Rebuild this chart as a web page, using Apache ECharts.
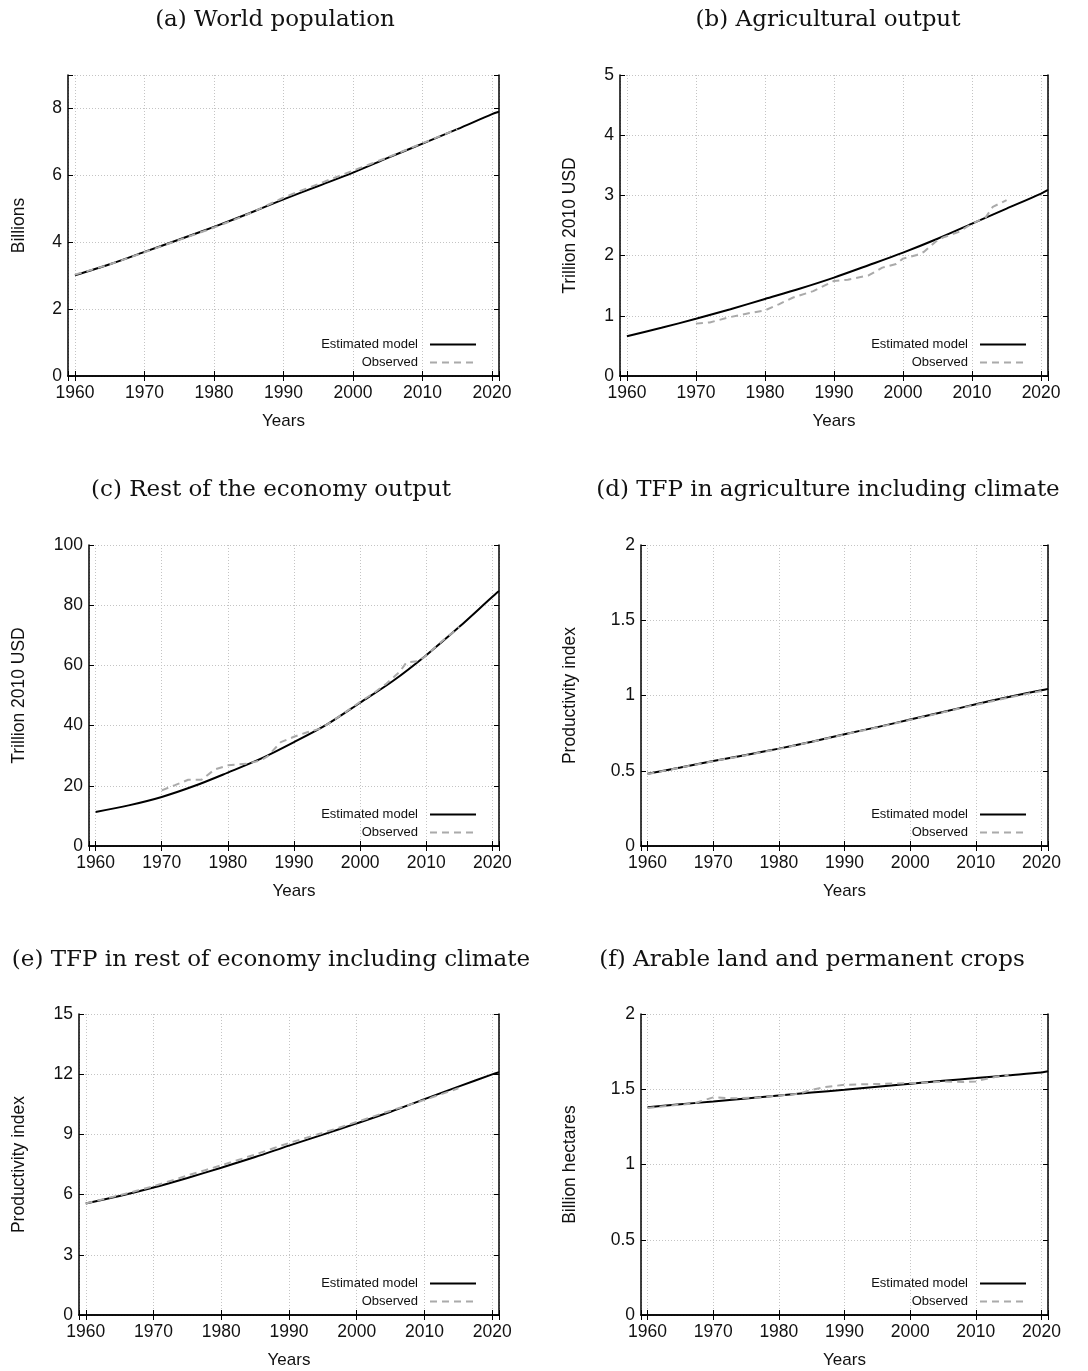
<!DOCTYPE html>
<html>
<head>
<meta charset="utf-8">
<script src="https://cdn.jsdelivr.net/npm/echarts@6/dist/echarts.min.js"></script>
<style>
  html, body { margin: 0; padding: 0; background: #fff; }
  #chart { width: 1088px; height: 1371px; }
</style>
</head>
<body>
<div id="chart"></div>
<script>
// model years (every 5 years + 2021)
var modelYears = [1960, 1965, 1970, 1975, 1980, 1985, 1990, 1995, 2000, 2005, 2010, 2015, 2020, 2021];

// (a) world population, billions
var popModel = [3.01, 3.34, 3.71, 4.08, 4.46, 4.86, 5.28, 5.68, 6.08, 6.52, 6.95, 7.38, 7.83, 7.90];
var popObsYears = [1960, 1965, 1970, 1975, 1980, 1985, 1990, 1995, 2000, 2005, 2010, 2015];
var popObs = [3.03, 3.34, 3.70, 4.07, 4.44, 4.85, 5.33, 5.74, 6.14, 6.54, 6.96, 7.38];

// (b) agricultural output, trillion 2010 USD
var agModel = [0.66, 0.80, 0.95, 1.11, 1.28, 1.45, 1.635, 1.84, 2.05, 2.28, 2.53, 2.78, 3.03, 3.09];
var agObsYears = [1970, 1972, 1975, 1978, 1980, 1982, 1984, 1987, 1990, 1992, 1995, 1997, 1999, 2000, 2002, 2003, 2005, 2006, 2008, 2010, 2012, 2013, 2015];
var agObs = [0.87, 0.89, 0.98, 1.05, 1.09, 1.19, 1.30, 1.41, 1.58, 1.60, 1.67, 1.80, 1.86, 1.95, 2.01, 2.06, 2.26, 2.31, 2.39, 2.53, 2.64, 2.81, 2.92];

// (c) rest of the economy output, trillion 2010 USD
var restModel = [11.3, 13.5, 16.3, 20.0, 24.4, 29.0, 34.5, 40.4, 47.6, 54.9, 63.4, 72.8, 82.8, 84.7];
var restObsYears = [1970, 1972, 1974, 1976, 1978, 1980, 1983, 1985, 1986, 1988, 1990, 1992, 1994, 1996, 1998, 2000, 2002, 2004, 2006, 2007, 2009, 2010, 2012, 2015];
var restObs = [18.5, 20.2, 22.0, 22.0, 25.4, 26.8, 27.4, 28.5, 29.8, 34.5, 36.3, 37.8, 39.0, 41.8, 44.8, 47.9, 50.7, 54.0, 57.9, 61.0, 61.5, 63.4, 67.3, 72.8];

// (d) TFP in agriculture
var tfpAgModel = [0.48, 0.522, 0.565, 0.605, 0.647, 0.693, 0.743, 0.79, 0.84, 0.89, 0.942, 0.99, 1.035, 1.044];
var tfpAgObsYears = [1960, 1965, 1970, 1975, 1980, 1985, 1990, 1995, 2000, 2005, 2010, 2015, 2020];
var tfpAgObs = [0.478, 0.521, 0.563, 0.603, 0.645, 0.692, 0.741, 0.788, 0.838, 0.888, 0.938, 0.986, 1.03];

// (e) TFP in rest of economy
var tfpRestModel = [5.56, 5.93, 6.35, 6.83, 7.34, 7.87, 8.44, 8.99, 9.55, 10.13, 10.76, 11.38, 11.99, 12.1];
var tfpRestObsYears = [1960, 1965, 1970, 1975, 1980, 1985, 1990, 1995, 2000, 2005, 2010, 2015];
var tfpRestObs = [5.56, 5.97, 6.42, 6.95, 7.46, 8.0, 8.57, 9.08, 9.62, 10.18, 10.72, 11.3];

// (f) arable land, billion hectares
var landModel = [1.381, 1.40, 1.419, 1.439, 1.459, 1.478, 1.497, 1.517, 1.537, 1.556, 1.574, 1.593, 1.612, 1.619];
var landObsYears = [1960, 1963, 1967, 1970, 1973, 1977, 1980, 1983, 1985, 1987, 1990, 1995, 2000, 2003, 2005, 2008, 2010, 2012, 2015];
var landObs = [1.375, 1.39, 1.405, 1.446, 1.44, 1.445, 1.459, 1.47, 1.495, 1.514, 1.53, 1.535, 1.541, 1.545, 1.552, 1.548, 1.552, 1.574, 1.597];

var titles = ['(a) World population', '(b) Agricultural output', '(c) Rest of the economy output',
  '(d) TFP in agriculture including climate', '(e) TFP in rest of economy including climate',
  '(f) Arable land and permanent crops'];
var yNames = ['Billions', 'Trillion 2010 USD', 'Trillion 2010 USD', 'Productivity index', 'Productivity index', 'Billion hectares'];
var yMax = [9, 5, 100, 2, 15, 2];
var yStep = [2, 1, 20, 0.5, 3, 0.5];

var panels = [
  { model: popModel, obsYears: popObsYears, obs: popObs, smoothObs: true },
  { model: agModel, obsYears: agObsYears, obs: agObs, smoothObs: false },
  { model: restModel, obsYears: restObsYears, obs: restObs, smoothObs: false },
  { model: tfpAgModel, obsYears: tfpAgObsYears, obs: tfpAgObs, smoothObs: true },
  { model: tfpRestModel, obsYears: tfpRestObsYears, obs: tfpRestObs, smoothObs: true },
  { model: landModel, obsYears: landObsYears, obs: landObs, smoothObs: false }
];

// layout of the six plot boxes
var boxes = [
  { left: 68, top: 75, width: 431, height: 301, name: 40, title: [275, 20], legendRight: 611, legendTop: 338 },
  { left: 620, top: 75, width: 428, height: 301, name: 41, title: [828, 20], legendRight: 61, legendTop: 338 },
  { left: 89, top: 545, width: 410, height: 301, name: 61, title: [271, 490], legendRight: 611, legendTop: 808 },
  { left: 641, top: 545, width: 407, height: 301, name: 62, title: [828, 490], legendRight: 61, legendTop: 808 },
  { left: 79, top: 1014, width: 420, height: 301, name: 51, title: [271, 960], legendRight: 611, legendTop: 1277 },
  { left: 641, top: 1014, width: 407, height: 301, name: 62, title: [812, 960], legendRight: 61, legendTop: 1277 }
];

var sans = 'Liberation Sans';
var grids = [], xAxes = [], yAxes = [], series = [], legends = [], graphics = [];

panels.forEach(function (p, i) {
  var b = boxes[i];
  grids.push({ left: b.left, top: b.top, width: b.width, height: b.height, containLabel: false });

  xAxes.push({
    type: 'value', gridIndex: i, min: 1959, max: 2021, splitNumber: 6, position: 'bottom',
    name: 'Years', nameLocation: 'middle', nameGap: 37,
    nameTextStyle: { fontFamily: sans, fontSize: 17, color: '#111' },
    axisLine: { show: true, lineStyle: { color: '#000', width: 1.5 } },
    axisTick: { inside: true, length: 5, lineStyle: { color: '#000' } },
    axisLabel: { fontFamily: sans, fontSize: 17.5, color: '#111', margin: 8,
      formatter: function (v) { return v % 10 === 0 ? String(v) : ''; } },
    splitLine: { show: true, lineStyle: { color: '#c4c4c4', type: [1, 2], width: 1 } }
  });
  xAxes.push({
    type: 'value', gridIndex: i, min: 1959, max: 2021, splitNumber: 6, position: 'top',
    axisLine: { show: true, lineStyle: { color: '#000', width: 1.5 } },
    axisTick: { inside: true, length: 5, lineStyle: { color: '#000' } },
    axisLabel: { show: false }, splitLine: { show: false }
  });

  var step = yStep[i];
  yAxes.push({
    type: 'value', gridIndex: i, min: 0, max: yMax[i], interval: step, position: 'left',
    name: yNames[i], nameLocation: 'middle', nameGap: b.name, nameRotate: 90,
    nameTextStyle: { fontFamily: sans, fontSize: 17.5, color: '#111' },
    axisLine: { show: true, lineStyle: { color: '#000', width: 1.5 } },
    axisTick: { inside: true, length: 5, lineStyle: { color: '#000' } },
    axisLabel: { fontFamily: sans, fontSize: 17.5, color: '#111', margin: 6,
      formatter: function (v) {
        var k = v / step;
        return Math.abs(k - Math.round(k)) < 1e-6 ? String(v) : '';
      } },
    splitLine: { show: true, lineStyle: { color: '#c4c4c4', type: [1, 2], width: 1 } }
  });
  yAxes.push({
    type: 'value', gridIndex: i, min: 0, max: yMax[i], interval: step, position: 'right',
    axisLine: { show: true, lineStyle: { color: '#000', width: 1.5 } },
    axisTick: { inside: true, length: 5, lineStyle: { color: '#000' } },
    axisLabel: { show: false }, splitLine: { show: false }
  });

  series.push({
    name: 'Estimated model', type: 'line', xAxisIndex: i * 2, yAxisIndex: i * 2,
    data: modelYears.map(function (y, k) { return [y, p.model[k]]; }),
    symbol: 'none', smooth: 0.3, lineStyle: { color: '#000', width: 2 }, itemStyle: { color: '#000' },
    animation: false
  });
  series.push({
    name: 'Observed', type: 'line', xAxisIndex: i * 2, yAxisIndex: i * 2,
    data: p.obsYears.map(function (y, k) { return [y, p.obs[k]]; }),
    symbol: 'none', smooth: p.smoothObs ? 0.3 : false,
    lineStyle: { color: '#aaaaaa', width: 2, type: [7, 5] }, itemStyle: { color: '#aaaaaa' },
    animation: false
  });

  legends.push({
    data: ['Estimated model', 'Observed'], orient: 'vertical', align: 'right',
    right: b.legendRight, top: b.legendTop, padding: 0,
    itemWidth: 46, itemHeight: 14, itemGap: 5, selectedMode: false,
    itemStyle: { opacity: 0 },
    textStyle: { fontFamily: sans, fontSize: 13, color: '#111', padding: [0, 7, 0, 0] }
  });

  graphics.push({
    type: 'text', x: b.title[0], y: b.title[1],
    style: { text: titles[i], font: '23px "DejaVu Serif"', fill: '#111',
      textAlign: 'center', textVerticalAlign: 'middle' }
  });
});

var chart = echarts.init(document.getElementById('chart'));
chart.setOption({
  backgroundColor: '#fff',
  animation: false,
  grid: grids,
  xAxis: xAxes,
  yAxis: yAxes,
  legend: legends,
  series: series,
  graphic: graphics
});
</script>
</body>
</html>
